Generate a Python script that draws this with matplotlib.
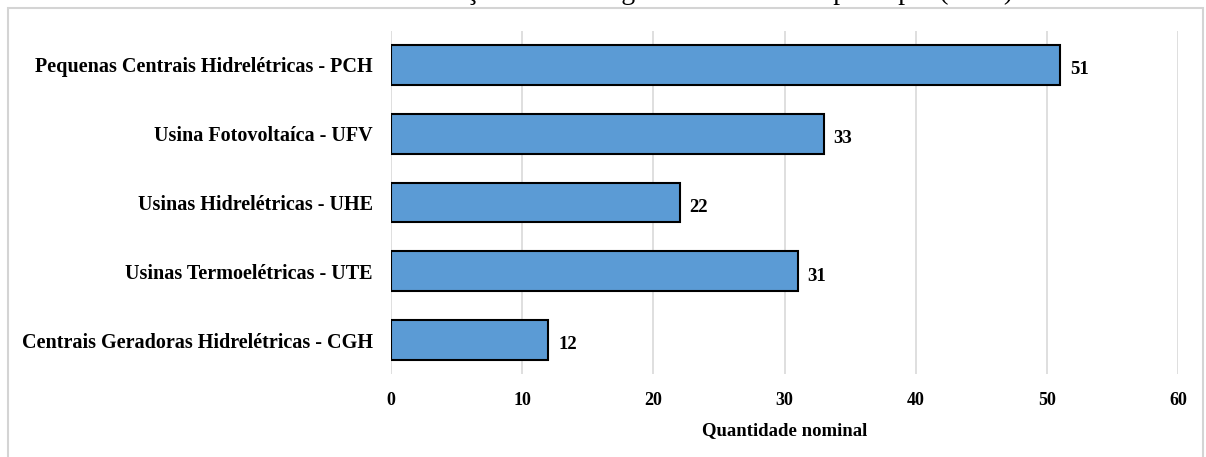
import matplotlib
matplotlib.use("Agg")
import matplotlib.pyplot as plt
from matplotlib.patches import Rectangle

# Data
categories = [
    "Pequenas Centrais Hidrelétricas - PCH",
    "Usina Fotovoltaíca - UFV",
    "Usinas Hidrelétricas - UHE",
    "Usinas Termoelétricas - UTE",
    "Centrais Geradoras Hidrelétricas - CGH",
]
values = [51, 33, 22, 31, 12]
x_ticks = [0, 10, 20, 30, 40, 50, 60]
title_text = "Distribuição de usinas geradoras de fonte principal (2023)"
x_label = "Quantidade nominal"

W, H = 1206, 457
fig = plt.figure(figsize=(W / 100, H / 100), dpi=100)
fig.patch.set_facecolor("white")

serif = ["Liberation Serif", "DejaVu Serif"]

# Outer frame of the chart area
fig.patches.append(Rectangle((8 / W, -0.02), (1203 - 8) / W, 1.02 - 8 / H,
                             transform=fig.transFigure, fill=False,
                             edgecolor="#D4D4D4", linewidth=1.5))

# Title (runs past the top edge of the figure)
fig.text(1013 / W, 1 + 1 / H, title_text, ha="right", va="baseline",
         fontsize=20, family=serif, color="black")

ax = fig.add_axes([391 / W, 1 - 374.4 / H, (1178 - 391) / W, (374.4 - 30.6) / H])

pos = list(range(len(categories)))
ax.barh(pos, values, height=0.58, color="#5B9BD5", edgecolor="black",
        linewidth=1.5, zorder=3)

for p, v in zip(pos, values):
    ax.text(v + 0.75, p + 0.07, str(v), ha="left", va="center",
            fontsize=13.5, fontweight="bold", family=serif, color="black")

ax.set_xlim(0, 60)
ax.set_ylim(len(categories) - 0.5, -0.5)
ax.set_xticks(x_ticks)
ax.set_xticklabels([str(t) for t in x_ticks])
ax.set_yticks(pos)
ax.set_yticklabels(categories)

for lbl in ax.get_xticklabels():
    lbl.set_fontfamily(serif)
    lbl.set_fontweight("bold")
    lbl.set_fontsize(13)
for lbl in ax.get_yticklabels():
    lbl.set_fontfamily(serif)
    lbl.set_fontweight("bold")
    lbl.set_fontsize(14.5)

ax.tick_params(axis="y", length=0, pad=13)
ax.tick_params(axis="x", length=0, pad=13)

ax.set_xlabel(x_label, fontsize=13.5, fontweight="bold", family=serif, labelpad=9)

ax.grid(axis="x", color="#D9D9D9", linewidth=1.2, zorder=0)
ax.grid(axis="y", visible=False)
for s in ax.spines.values():
    s.set_visible(False)
ax.set_facecolor("none")

fig.savefig("out.png", dpi=100)
